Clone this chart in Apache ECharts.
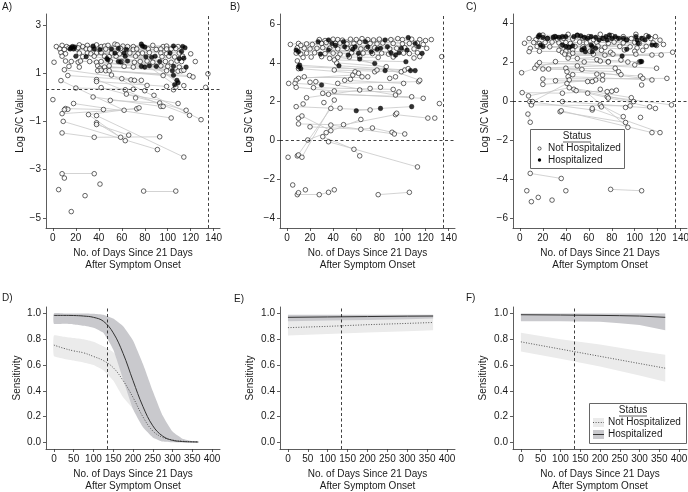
<!DOCTYPE html>
<html><head><meta charset="utf-8">
<script src="https://cdn.jsdelivr.net/npm/echarts@6/dist/echarts.min.js"></script>
<style>html,body{margin:0;padding:0;background:#fff}#c{width:688px;height:492px}</style>
</head><body><div id="c"></div>
<script>
// ---------- Panel A (Log S/C, cutoff 0.35) ----------
const aOpen = [[3,2.1],[8,2.15],[12,2.1],[23,2.17],[26,2.1],[30,2.15],[38,2.17],[42,2.1],[45,2.12],[48,2.15],[54,2.2],[56,2.17],[61,2.12],[65,2.1],[70,2.1],[87,2.15],[96,2.1],[99,2.12],[109,2.1],
[6,2.0],[10,1.98],[14,2.05],[21,2.0],[22,2.05],[29,2.0],[32,2.0],[46,2.0],[59,2.02],[70,1.98],[73,2.0],[83,2.0],[90,1.98],[94,2.0],[99,2.0],[103,2.0],[107,2.02],
[7,1.85],[11,1.8],[23,1.83],[30,1.83],[33,1.8],[38,1.83],[42,1.85],[51,1.83],[58,1.8],[67,1.83],[74,1.8],[78,1.83],[84,1.85],[94,1.83],[99,1.8],[110,1.83],[120,1.8],
[8,1.7],[26,1.68],[36,1.7],[45,1.7],[49,1.68],[55,1.7],[72,1.7],[95,1.68],[101,1.7],[106,1.67],[113,1.7],
[1,1.45],[11,1.5],[16,1.48],[22,1.45],[24,1.5],[32,1.48],[38,1.45],[42,1.48],[50,1.5],[60,1.48],[71,1.45],[76,1.48],[82,1.5],[87,1.45],[98,1.48],[103,1.45],[108,1.5],[112,1.48],[124,1.48],
[14,1.28],[23,1.25],[39,1.3],[41,1.2],[45,1.25],[49,1.3],[62,1.28],[70,1.25],[94,1.3],[100,1.28],[110,1.25],
[10,1.14],[39,1.1],[42,1.12],[46,1.1],[49,1.1],[99,1.1],[109,1.08],[112,1.1],[114,1.12],
[13,0.9],[51,0.92],[96,0.9],[119,0.9],[122,0.84],[135,0.97],
[7,0.69],[38,0.73],[60,0.77],[68,0.72],[71,0.7],[77,0.7],
[38,0.65],[82,0.49],[99,0.45],[114,0.48],[20,0.38],[42,0.4],[70,0.33],[80,0.27],[105,0.31],[107,0.42],[133,0.41],[63,0.31],[64,0.13],[88,0.08],
[0,-0.1],[18,-0.26],[11,-0.47],[13,-0.5],[10,-0.52],[8,-0.68],[9,-1.0],[8,-1.48],[35,0.01],[50,-0.13],[44,-0.51],[62,-0.54],[72,-0.03],[73,-0.48],[75,-0.44],[93,-0.24],[94,-0.38],[96,-0.38],[109,-0.26],[103,-0.86],[116,-0.54],[119,-0.75],[129,-0.93],
[31,-0.72],[38,-0.76],[38,-1.06],[38,-1.13],[36,-1.66],[59,-1.66],[66,-1.57],[63,-1.8],[93,-1.64],[91,-2.17],[114,-2.48],
[8,-3.17],[10,-3.35],[36,-3.17],[5,-3.83],[41,-3.6],[28,-4.08],[16,-4.74],[79,-3.89],[107,-3.89]];
const aHosp = [[16,2.05],[17,2.1],[18,2.0],[15,2.0],[19,2.08],[35,2.12],[77,2.2],[78,2.12],[80,2.08],[105,2.12],[113,2.1],[115,2.05],
[36,2.0],[41,1.98],[51,2.0],[57,2.02],[64,1.98],[112,1.9],[54,1.83],[62,1.83],[102,1.83],[47,1.6],[48,1.55],
[20,1.7],[29,1.68],[63,1.7],[81,1.68],[86,1.66],[89,1.7],[110,1.6],[114,1.62],[57,1.48],[59,1.46],[65,1.5],[93,1.48],
[77,1.28],[80,1.25],[84,1.3],[90,1.28],[105,1.28],[116,1.25],[104,1.1],[105,0.91],[108,0.7],[109,0.6],[106,0.52]];
const aLinks = [[16,2.05,61,2.12],[17,2.1,87,2.15],[19,2.08,105,2.12],[15,2.0,73,2.0],[18,2.0,54,1.83],[14,2.05,46,2.0],[12,2.1,45,2.12],[23,2.17,56,2.17],[26,2.1,78,2.12],[22,2.05,90,1.98],[30,2.15,99,2.12],[21,2.0,63,1.7],[29,2.0,81,1.68],[33,1.8,84,1.85],[36,2.0,94,2.0],[41,1.98,102,1.83],[38,1.83,89,1.7],[42,1.85,93,1.48],[51,2.0,113,2.1],[57,2.02,112,1.9],[64,1.98,110,1.83],[23,1.83,57,1.48],[30,1.83,76,1.48],[45,1.7,90,1.28],[49,1.68,105,1.28],[51,1.83,103,1.45],[55,1.7,114,1.62],[58,1.8,116,1.25],[60,1.48,104,1.1],[62,1.83,109,1.08],[72,1.7,108,0.7],[67,1.83,106,0.52],[82,1.5,109,0.6],[32,1.48,84,1.3],[24,1.5,77,1.28],[16,1.48,50,1.5],[39,1.3,99,1.1],[42,1.12,96,0.9],[46,1.1,119,0.9],[49,1.1,122,0.84],[45,1.25,114,1.12],[41,1.2,100,1.28],[71,1.45,112,1.1],
[13,0.9,68,0.72],[10,1.14,77,0.7],[20,0.38,70,0.33],[38,0.65,99,0.45],[38,0.73,119,-0.75],[42,0.4,116,-0.54],[51,0.92,129,-0.93],[35,0.01,94,-0.38],[11,-0.47,44,-0.51],[8,-0.68,73,-0.48],[31,-0.72,75,-0.44],[18,-0.26,103,-0.86],[64,0.13,109,-0.26],[50,-0.13,93,-0.24],[60,0.77,82,0.49],[7,0.69,62,-0.54],
[8,-1.48,36,-1.66],[36,-1.66,93,-1.64],[9,-1.0,91,-2.17],[38,-1.06,59,-1.66],[38,-1.13,66,-1.57],[38,-0.76,114,-2.48],[31,-0.72,63,-1.8],[8,-3.17,36,-3.17],[79,-3.89,107,-3.89]];

// ---------- Panel B ----------
const bOpen = [[28,5.2],[33,5.15],[40,5.22],[44,5.2],[48,5.17],[55,5.22],[60,5.2],[65,5.25],[70,5.2],[75,5.18],[80,5.22],[90,5.2],[96,5.25],[100,5.2],[108,5.22],[115,5.2],[120,5.15],[125,5.2],
[3,4.95],[10,5.0],[17,4.98],[22,4.95],[30,5.0],[34,5.05],[42,5.0],[46,5.02],[52,4.98],[58,5.0],[63,5.05],[72,5.0],[78,4.98],[83,5.02],[92,5.0],[100,4.98],[106,5.0],[113,5.02],[118,4.95],
[9,4.78],[15,4.75],[20,4.72],[26,4.75],[31,4.78],[37,4.75],[44,4.72],[52,4.75],[56,4.78],[64,4.72],[69,4.75],[76,4.78],[89,4.72],[95,4.75],[102,4.78],[110,4.72],[121,4.75],
[8,4.5],[12,4.45],[17,4.5],[24,4.52],[33,4.48],[40,4.5],[46,4.45],[56,4.52],[66,4.5],[74,4.48],[82,4.5],[88,4.45],[101,4.5],[106,4.48],[113,4.52],
[14,4.28],[21,4.3],[30,4.32],[44,4.28],[54,4.3],[63,4.32],[79,4.28],[92,4.3],[110,4.25],[115,4.32],[134,4.32],
[9,4.1],[10,3.7],[15,3.28],[10,3.2],[8,3.1],[7,2.94],[8,2.74],[1.5,2.94],[8,1.74],[14,1.88],[17,2.2],[10,1.14],[13,1.26],[10,0.85],[20,0.7],[1,-0.87],[9,-0.8],[10,-0.75],[13,-0.87],[18,0.02],[31,0.19],[36,-0.07],
[5,-2.3],[9,-2.8],[10,-2.7],[16,-2.55],[28,-2.8],[36,-2.68],[41,-2.55],[79,-2.8],[106,-2.68],[58,-0.46],[63,-0.8],[113,-1.37],
[34,0.4],[38,0.79],[38,0.5],[49,0.81],[64,0.57],[74,0.64],[91,0.42],[93,0.33],[102,0.33],[64,1.08],[94,1.33],[95,1.4],[122,1.15],[128,1.15],[132,1.9],
[31,2.43],[36,2.38],[41,2.55],[41,2.08],[38,1.65],[23,2.72],[25,3.03],[72,1.57],[63,2.6],[72,2.68],[81,2.74],[92,2.63],[94,2.34],[97,2.5],[101,2.94],[114,3.03],[115,3.1],[108,2.25],[118,2.17],[50,3.1],[55,3.15],[44,2.94],[41,3.63],[43,4.0],[41,4.15],[37,4.23],[57,3.37],[59,3.54],[62,3.46],[65,3.28],[70,3.28],[76,3.54],[78,3.63],[86,3.8],[89,3.2],[94,3.28],[99,3.54],[102,3.63],[105,3.7],[32,1.95],[46,1.66],[20,3.0],[12,4.9]];
const bHosp = [[8,4.66],[10,4.57],[27,5.09],[36,5.18],[39,5.0],[49,5.09],[50,4.83],[53,4.4],[59,4.83],[62,4.49],[68,5.09],[70,4.83],[73,4.57],[78,4.7],[81,4.75],[85,5.18],[87,4.83],[90,4.52],[94,4.4],[97,4.52],[99,4.75],[104,4.66],[105,5.3],[111,5.0],[114,4.83],[117,4.49],[12,3.7],[11,3.88],[10,3.8],[29,4.45],[36,4.66],[30,2.86],[60,1.53],[81,1.65],[108,1.74],[85,3.6],[76,3.97],[103,4.06],[107,3.6],[111,3.6],[45,3.85],[63,4.2],[57,4.7],[42,4.9]];
const bLinks = [[13,-0.87,41,2.08],[10,0.85,49,0.8],[49,0.8,94,1.33],[94,1.33,122,1.15],[20,0.7,64,0.57],[64,0.57,74,0.64],[74,0.64,91,0.42],[91,0.42,102,0.33],[31,0.19,58,-0.46],[58,-0.46,63,-0.8],[36,-0.07,113,-1.37],[9,-2.8,28,-2.8],[28,-2.8,36,-2.68],[36,-2.68,41,-2.55],[79,-2.8,106,-2.68],[18,0.02,64,1.08],[9,-0.8,38,1.65],[13,1.26,38,0.5],[38,0.79,93,0.33],[60,1.53,81,1.65],[81,1.65,108,1.74],
[8,1.74,72,1.57],[17,2.2,63,2.6],[8,2.74,41,2.55],[23,2.72,92,2.63],[25,3.03,94,2.34],[31,2.43,118,2.17],[36,2.38,108,2.25],[41,2.55,97,2.5],[44,2.94,114,3.03],[50,3.1,101,2.94],[15,3.28,65,3.28],[10,3.2,57,3.37],[7,2.94,30,2.86],[41,3.63,99,3.54],[43,4.0,86,3.8],[12,3.7,62,3.46],[11,3.88,78,3.63],[10,3.8,107,3.6],[45,3.85,111,3.6],[29,4.45,76,3.97],[41,4.15,103,4.06],[63,4.2,115,3.1],
[8,4.66,50,4.83],[10,4.57,62,4.49],[9,4.78,59,4.83],[12,4.9,68,5.09],[17,4.98,85,5.18],[27,5.09,105,5.3],[36,5.18,111,5.0],[39,5.0,99,4.75],[49,5.09,114,4.83],[53,4.4,117,4.49],[36,4.66,90,4.52],[42,4.9,104,4.66],[57,4.7,97,4.52],[20,4.72,73,4.57],[24,4.52,94,4.4],[30,4.32,79,4.28],[33,4.48,87,4.83],[31,4.78,78,4.7],[15,4.75,70,4.83],[22,4.95,81,4.75],[3,4.95,40,5.22],[44,5.2,120,5.15],[28,5.2,100,5.2],[34,5.05,113,5.02]];

// ---------- Panel C ----------
const cOpen = [[20,3.38],[30,3.3],[42,3.42],[50,3.35],[60,3.3],[70,3.42],[80,3.35],[90,3.3],[101,3.42],[110,3.35],[118,3.3],
[8,3.2],[14,3.15],[24,3.2],[33,3.15],[38,3.22],[46,3.18],[55,3.2],[64,3.15],[73,3.2],[84,3.18],[93,3.15],[97,3.2],[107,3.18],[114,3.2],[122,3.12],
[4,2.96],[12,3.0],[17,2.95],[22,3.0],[28,3.02],[34,2.98],[40,3.0],[44,2.95],[52,3.02],[58,2.98],[67,3.0],[77,2.96],[82,3.02],[90,2.98],[100,3.0],[104,2.95],[116,2.98],[125,2.9],
[9,2.7],[15,2.8],[26,2.78],[36,2.82],[42,2.75],[48,2.8],[55,2.78],[68,2.82],[74,2.75],[87,2.8],[96,2.78],[102,2.72],[110,2.8],[119,2.85],
[8,2.53],[17,2.55],[34,2.6],[37,2.5],[40,2.55],[46,2.62],[61,2.55],[71,2.6],[79,2.5],[91,2.62],[100,2.55],[107,2.6],
[39,2.4],[43,2.35],[46,2.45],[64,2.4],[74,2.35],[81,2.4],[101,2.4],[115,2.36],[123,2.36],[133,2.5],
[42,2.2],[50,2.18],[67,2.12],[70,2.05],[77,2.02],[88,2.1],[94,2.0],[104,2.0],
[1.5,1.45],[2,0.43],[7,-0.67],[7.5,0.26],[8.6,-0.03],[10,-0.2],[11,-0.03],[9,-1.09],[13,1.68],[15,1.85],[17,1.97],[20,1.64],[20,1.13],[20,0.85],[25,1.64],[31,2.02],[31,1.04],[40,1.68],[41,1.5],[42,1.25],[43,1.08],[41,0.9],[37,0.4],[37,-0.03],[35,-0.55],[36,-0.5],[43,0.68],[47,0.6],[49,0.53],[54,1.62],[59,0.4],[63,-0.46],[63,-0.38],[66,1.08],[67,1.38],[59,1.0],[63,1.0],[70,-0.2],[71,-0.3],[70,0.6],[72,1.33],[72,1.08],[77,2.0],[76,0.48],[80,0.5],[84,0.55],[76,0.22],[77,0.15],[83,1.68],[86,1.5],[90,-0.8],[92,-1.1],[94,-1.35],[92,-0.33],[97,0.17],[99,-0.03],[96,-0.25],[105,-0.84],[100,1.85],[105,1.28],[107,1.16],[106,0.82],[113,-0.3],[118,-0.38],[119,1.68],[128,1.16],[115,-1.62],[122,-1.62],[115,1.08],[132,-0.2],[50,1.8],[46,1.35],[88,1.35],[56,2.0],
[9,-3.71],[36,-3.97],[6,-4.6],[10,-5.16],[16,-4.94],[28,-5.08],[40,-4.6],[79,-4.53],[106,-4.6]];
const cHosp = [[16,3.3],[17,3.38],[20,3.26],[24,3.21],[29,3.26],[31,3.3],[34,3.26],[37,3.3],[40,3.3],[47,3.3],[50,3.38],[53,3.34],[56,3.26],[59,3.21],[62,3.3],[66,3.26],[69,3.13],[72,3.21],[75,3.3],[76,3.13],[78,3.38],[80,3.21],[83,3.3],[86,3.21],[90,3.21],[93,3.13],[101,3.3],[102,3.13],[103,2.96],[106,3.21],[109,3.13],[112,3.3],[115,2.87],[118,2.87],[37,2.87],[40,2.79],[43,2.76],[46,2.83],[54,2.62],[56,2.7],[62,2.87],[63,2.79],[66,2.7],[63,2.53],[57,2.53],[89,2.31],[93,2.65],[105,2.02],[106,2.02],[20,2.79],[18,2.87]];
const cLinks = [[16,3.3,75,3.3],[17,3.38,83,3.3],[20,3.26,101,3.3],[24,3.21,62,3.3],[29,3.26,112,3.3],[31,3.3,80,3.21],[34,3.26,90,3.21],[37,3.3,106,3.21],[40,3.3,109,3.13],[47,3.3,118,2.87],[50,3.38,102,3.13],[8,3.2,46,3.18],[14,3.15,64,3.15],[4,2.96,55,3.2],[12,3.0,67,3.0],[22,3.0,100,3.0],[28,3.02,82,3.02],[9,2.7,48,2.8],[15,2.8,87,2.8],[8,2.53,61,2.55],[17,2.55,79,2.5],[37,2.87,93,2.65],[40,2.79,115,2.87],[43,2.76,103,2.96],[54,2.62,89,2.31],[20,2.79,66,2.7],[34,2.6,81,2.4],[39,2.4,101,2.4],[43,2.35,123,2.36],[46,2.45,115,2.36],[42,2.2,104,2.0],[31,2.02,94,2.0],[50,2.18,133,2.5],
[13,1.68,100,1.85],[15,1.85,77,2.0],[17,1.97,119,1.68],[20,1.64,83,1.68],[25,1.64,86,1.5],[20,1.13,128,1.16],[40,1.68,107,1.16],[41,1.5,105,1.28],[42,1.25,115,1.08],[43,1.08,72,1.08],[20,0.85,66,1.08],[31,1.04,59,1.0],[1.5,1.45,31,2.02],[2,0.43,37,0.4],[7.5,0.26,43,0.68],[11,-0.03,41,0.9],[8.6,-0.03,63,-0.46],[10,-0.2,96,-0.25],[37,0.4,84,0.55],[43,0.68,97,0.17],[47,0.6,99,-0.03],[49,0.53,113,-0.3],[37,-0.03,118,-0.38],[35,-0.55,92,-1.1],[36,-0.5,115,-1.62],[59,0.4,94,-1.35],[7,-0.67,9,-1.09],[63,-0.38,122,-1.62],[70,-0.2,90,-0.8],[9,-3.71,36,-3.97],[79,-4.53,106,-4.6],[76,0.22,132,-0.2]];

// ---------- Panel D (sensitivity curves) ----------
const dDays = [0,25,50,75,100,125,150,175,200,225,250,275,300,325,350,365];
const dHospFit = [0.985,0.985,0.984,0.98,0.97,0.94,0.85,0.69,0.48,0.28,0.13,0.05,0.017,0.008,0.005,0.004];
const dHospHi  = [1.0,1.0,1.0,1.0,0.998,0.99,0.96,0.9,0.79,0.61,0.4,0.21,0.085,0.03,0.012,0.008];
const dHospLo  = [0.92,0.92,0.915,0.905,0.89,0.85,0.72,0.49,0.26,0.12,0.04,0.008,0.002,0.001,0,0];
const dNotFit  = [0.755,0.73,0.71,0.695,0.667,0.635,0.58,0.48,0.35,0.2,0.09,0.04,0.02,0.01,0.006,0.005];
const dNotHi   = [0.83,0.82,0.81,0.8,0.78,0.745,0.7,0.63,0.52,0.38,0.22,0.11,0.05,0.02,0.01,0.008];
const dNotLo   = [0.67,0.65,0.635,0.62,0.6,0.56,0.48,0.35,0.26,0.14,0.055,0.02,0.005,0,0,0];
// ---------- Panel E ----------
const eDays = [0,100,200,300,365];
const eHospFit = [0.97,0.973,0.976,0.979,0.98];
const eHospHi  = [0.99,0.99,0.99,0.99,0.99];
const eHospLo  = [0.94,0.945,0.95,0.956,0.96];
const eNotFit  = [0.89,0.90,0.913,0.923,0.93];
const eNotHi   = [0.95,0.954,0.958,0.962,0.965];
const eNotLo   = [0.83,0.841,0.852,0.863,0.87];
// ---------- Panel F ----------
const fDays = [0,100,200,250,300,365];
const fHospFit = [0.99,0.988,0.985,0.983,0.98,0.97];
const fHospHi  = [0.999,0.999,0.999,0.999,0.999,0.999];
const fHospLo  = [0.94,0.94,0.935,0.925,0.91,0.87];
const fNotFit  = [0.78,0.724,0.668,0.64,0.612,0.576];
const fNotHi   = [0.85,0.80,0.76,0.735,0.71,0.68];
const fNotLo   = [0.705,0.65,0.59,0.555,0.52,0.47];

const topTicks = [0,20,40,60,80,100,120,140];
const botTicks = [0,50,100,150,200,250,300,350,400];
const aYTicks = [-5,-3,-1,1,3];
const bYTicks = [-4,-2,0,2,4,6];
const cYTicks = [-6,-4,-2,0,2,4];
const sensTicks = [0,0.2,0.4,0.6,0.8,1.0];
const cutoffDay = 135;

const FONT = '"Liberation Sans", Arial, Helvetica, sans-serif';
const TXT = '#1a1a1a';
const AX = '#333';
const chart = echarts.init(document.getElementById('c'));

const grids = [
 {left:46, top:14, width:174, height:214},
 {left:280, top:14, width:175, height:214},
 {left:513, top:14, width:174, height:214},
 {left:46, top:307, width:174, height:142},
 {left:280, top:307, width:175, height:142},
 {left:513, top:307, width:174, height:142}
].map(g => Object.assign(g, {containLabel:false, outerBoundsMode:'none'}));

const minus = v => (v < 0 ? '\u2212' + Math.abs(v) : String(v));
function xAx(gi, min, max, ticks) {
  return {type:'value', gridIndex:gi, min, max,
    axisLine:{onZero:false, lineStyle:{color:AX, width:0.8}},
    axisTick:{customValues:ticks, length:3, lineStyle:{color:AX, width:0.8}},
    axisLabel:{customValues:ticks, fontSize:10, color:TXT, fontFamily:FONT, margin:5},
    splitLine:{show:false},
    name:'No. of Days Since 21 Days\nAfter Symptom Onset', nameLocation:'middle', nameGap:19,
    nameTextStyle:{fontSize:10, lineHeight:12, color:TXT, fontFamily:FONT, verticalAlign:'top'}};
}
function yAx(gi, min, max, ticks, name, gap, fmt) {
  return {type:'value', gridIndex:gi, min, max,
    axisLine:{show:true, onZero:false, lineStyle:{color:AX, width:0.8}},
    axisTick:{show:true, customValues:ticks, length:3, lineStyle:{color:AX, width:0.8}},
    axisLabel:{customValues:ticks, fontSize:10, color:TXT, fontFamily:FONT, margin:5, formatter:fmt},
    splitLine:{show:false},
    name, nameLocation:'middle', nameGap:gap, nameRotate:90,
    nameTextStyle:{fontSize:10, color:TXT, fontFamily:FONT}};
}
const xAxis = [xAx(0,-6,145.5,topTicks), xAx(1,-6,145.5,topTicks), xAx(2,-6,145.5,topTicks),
  xAx(3,-20,420,botTicks), xAx(4,-20,420,botTicks), xAx(5,-20,420,botTicks)];
const sensFmt = v => v.toFixed(1);
const yAxis = [yAx(0,-5.42,3.45,aYTicks,'Log S/C Value',16,minus),
  yAx(1,-4.52,6.52,bYTicks,'Log S/C Value',26,minus),
  yAx(2,-6.51,4.46,cYTicks,'Log S/C Value',23,minus),
  yAx(3,-0.05,1.05,sensTicks,'Sensitivity',24,sensFmt),
  yAx(4,-0.05,1.05,sensTicks,'Sensitivity',25,sensFmt),
  yAx(5,-0.05,1.05,sensTicks,'Sensitivity',25,sensFmt)];

const series = [];
const dash = {type:[3,2.5], color:'#111', width:0.8};
function scatterPanel(gi, open, hosp, links, hline) {
  series.push({type:'lines', coordinateSystem:'cartesian2d', xAxisIndex:gi, yAxisIndex:gi, silent:true, z:1,
    data: links.map(l => ({coords:[[l[0],l[1]],[l[2],l[3]]]})),
    lineStyle:{color:'#c8c8c8', width:0.8, opacity:1, curveness:0}});
  series.push({type:'scatter', name:'Not Hospitalized', xAxisIndex:gi, yAxisIndex:gi, data:open, silent:true, z:3,
    symbol:'circle', symbolSize:4.6, itemStyle:{color:'#fff', borderColor:'#111', borderWidth:0.8},
    markLine:{silent:true, symbol:'none', label:{show:false}, lineStyle:dash, animation:false,
      data:[{xAxis:cutoffDay},{yAxis:hline}]}});
  series.push({type:'scatter', name:'Hospitalized', xAxisIndex:gi, yAxisIndex:gi, data:hosp, silent:true, z:4,
    symbol:'circle', symbolSize:4.6, itemStyle:{color:'#000', borderColor:'#000', borderWidth:0.5}});
}
scatterPanel(0, aOpen, aHosp, aLinks, 0.35);
scatterPanel(1, bOpen, bHosp, bLinks, 0);
scatterPanel(2, cOpen, cHosp, cLinks, 0);

// confidence band drawn as a polygon through the axis scales
function band(gi, xs, lo, hi, color, smooth) {
  series.push({type:'custom', xAxisIndex:gi, yAxisIndex:gi, silent:true, z:1,
    data: xs.map((x,i)=>[x, lo[i], hi[i]]), encode:{x:0, y:[1,2]},
    renderItem: (params, api) => {
      if (params.dataIndex !== 0) return;
      const up = xs.map((x,i)=>api.coord([x, hi[i]]));
      const dn = xs.map((x,i)=>api.coord([x, lo[i]])).reverse();
      return {type:'polygon', shape:{points: up.concat(dn), smooth: smooth}, style:{fill:color, stroke:null}};
    }});
}
function curvePanel(gi, xs, nFit, nLo, nHi, hFit, hLo, hHi, smooth) {
  band(gi, xs, nLo, nHi, '#ebebeb', smooth ? 0.15 : 0);
  band(gi, xs, hLo, hHi, '#c9c9cd', smooth ? 0.15 : 0);
  series.push({type:'line', xAxisIndex:gi, yAxisIndex:gi, silent:true, symbol:'none', smooth, z:3,
    data: xs.map((x,i)=>[x, nFit[i]]), lineStyle:{color:'#444', width:0.9, type:[1,1.6]}});
  series.push({type:'line', xAxisIndex:gi, yAxisIndex:gi, silent:true, symbol:'none', smooth, z:3,
    data: xs.map((x,i)=>[x, hFit[i]]), lineStyle:{color:'#333', width:1},
    markLine:{silent:true, symbol:'none', label:{show:false}, lineStyle:dash, animation:false, data:[{xAxis:cutoffDay}]}});
}
curvePanel(3, dDays, dNotFit, dNotLo, dNotHi, dHospFit, dHospLo, dHospHi, 0.4);
curvePanel(4, eDays, eNotFit, eNotLo, eNotHi, eHospFit, eHospLo, eHospHi, false);
curvePanel(5, fDays, fNotFit, fNotLo, fNotHi, fHospFit, fHospLo, fHospHi, false);

const tf = (t, x, y) => ({type:'text', x, y, style:{text:t, fontSize:10, fontFamily:FONT, fill:TXT, textVerticalAlign:'middle'}});
const graphic = [
  tf('A)', 2, 7), tf('B)', 230, 7), tf('C)', 466, 7),
  tf('D)', 2, 298), tf('E)', 234, 299), tf('F)', 466, 298),
  // legend C
  {type:'rect', shape:{x:530.5,y:129.5,width:94,height:39}, style:{fill:'#fff', stroke:'#666', lineWidth:1}, z:10},
  {type:'text', x:577, y:136.5, style:{text:'Status', fontSize:10, fontFamily:FONT, fill:TXT, textAlign:'center', textVerticalAlign:'middle'}, z:11},
  {type:'line', shape:{x1:563,y1:142,x2:591,y2:142}, style:{stroke:TXT, lineWidth:0.7}, z:11},
  {type:'circle', shape:{cx:539.5,cy:148.5,r:1.6}, style:{fill:'#fff', stroke:'#111', lineWidth:0.7}, z:11},
  {type:'text', x:548, y:148.5, style:{text:'Not Hospitalized', fontSize:10, fontFamily:FONT, fill:TXT, textVerticalAlign:'middle'}, z:11},
  {type:'circle', shape:{cx:539.5,cy:160,r:1.7}, style:{fill:'#000'}, z:11},
  {type:'text', x:548, y:160, style:{text:'Hospitalized', fontSize:10, fontFamily:FONT, fill:TXT, textVerticalAlign:'middle'}, z:11},
  // legend F
  {type:'rect', shape:{x:589.5,y:403.5,width:97,height:40}, style:{fill:'#fff', stroke:'#666', lineWidth:1}, z:10},
  {type:'text', x:633, y:410.5, style:{text:'Status', fontSize:10, fontFamily:FONT, fill:TXT, textAlign:'center', textVerticalAlign:'middle'}, z:11},
  {type:'line', shape:{x1:619,y1:416,x2:647,y2:416}, style:{stroke:TXT, lineWidth:0.7}, z:11},
  {type:'rect', shape:{x:593,y:418,width:11,height:9}, style:{fill:'#ebebeb'}, z:11},
  {type:'line', shape:{x1:593,y1:422.5,x2:604,y2:422.5}, style:{stroke:'#444', lineWidth:0.9, lineDash:[1,1.6]}, z:12},
  {type:'text', x:608, y:422.5, style:{text:'Not Hospitalized', fontSize:10, fontFamily:FONT, fill:TXT, textVerticalAlign:'middle'}, z:11},
  {type:'rect', shape:{x:593,y:430,width:11,height:9}, style:{fill:'#c9c9cd'}, z:11},
  {type:'line', shape:{x1:593,y1:434.5,x2:604,y2:434.5}, style:{stroke:'#333', lineWidth:1}, z:12},
  {type:'text', x:608, y:434.5, style:{text:'Hospitalized', fontSize:10, fontFamily:FONT, fill:TXT, textVerticalAlign:'middle'}, z:11}
];

chart.setOption({animation:false, backgroundColor:'#fff', textStyle:{fontFamily:FONT},
  grid:grids, xAxis, yAxis, series, graphic});
</script></body></html>
